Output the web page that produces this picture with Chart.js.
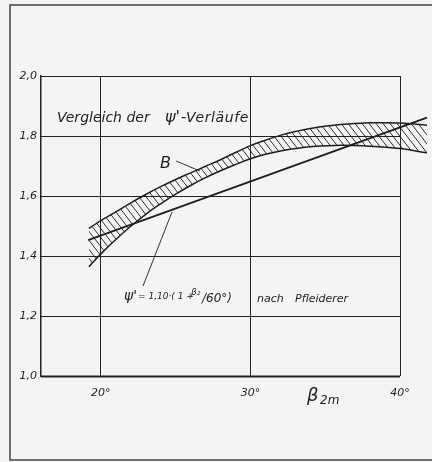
<!DOCTYPE html>
<html>
<head>
<meta charset="utf-8">
<script src="https://cdn.jsdelivr.net/npm/chart.js@4/dist/chart.umd.min.js"></script>
<style>
  html, body { margin: 0; padding: 0; background: #f4f4f4; }
  #wrap { position: relative; width: 432px; height: 462px; }
</style>
</head>
<body>
<div id="wrap"><canvas id="chart" width="432" height="462"></canvas></div>
<script>
// values (beta_2m in degrees, psi')
const bandBeta  = [19.2, 20, 21, 22, 23, 24, 25, 26, 27, 28, 29, 30, 31, 32, 33, 34, 36, 38, 40, 41.8];
const bandUpper = [1.492, 1.518, 1.547, 1.577, 1.605, 1.631, 1.655, 1.677, 1.699, 1.721, 1.745, 1.768, 1.786, 1.802, 1.815, 1.825, 1.838, 1.844, 1.843, 1.836];
const bandLower = [1.364, 1.407, 1.455, 1.499, 1.539, 1.574, 1.606, 1.635, 1.661, 1.684, 1.705, 1.724, 1.739, 1.75, 1.758, 1.764, 1.769, 1.766, 1.758, 1.744];
const pfleidererBeta = [19.15, 41.8];
const pfleidererPsi  = [1.453, 1.861];

const xTicks = [20, 30, 40];
const xTickLabels = ['20°', '30°', '40°'];
const yTicks = [1.0, 1.2, 1.4, 1.6, 1.8, 2.0];
const yTickLabels = ['1,0', '1,2', '1,4', '1,6', '1,8', '2,0'];

const ink = '#1e1e1e';
const font = 'DejaVu Sans';

function hatch() {
    const w = 7, h = 9;
    const c = document.createElement('canvas');
    c.width = w; c.height = h;
    const g = c.getContext('2d');
    g.strokeStyle = 'rgba(25,25,25,0.9)';
    g.lineWidth = 1;
    for (let k = -1; k <= 1; k++) {
        g.beginPath();
        g.moveTo(k * w, 0);
        g.lineTo(k * w + w, h);
        g.stroke();
    }
    return document.getElementById('chart').getContext('2d').createPattern(c, 'repeat');
}

const toPts = (xs, ys) => xs.map((x, i) => ({ x: x, y: ys[i] }));

// frame, horizontal grid, and the lettering
const drawing = {
    id: 'drawing',
    beforeDatasetsDraw(chart) {
        const { ctx, scales: { x, y } } = chart;
        const x0 = x.getPixelForValue(16), x1 = x.getPixelForValue(40);
        ctx.save();
        ctx.strokeStyle = '#222';
        yTicks.forEach(v => {
            const py = Math.round(y.getPixelForValue(v)) + 0.5;
            ctx.lineWidth = v === 1.0 ? 2 : 1;
            ctx.beginPath();
            ctx.moveTo(x0, py);
            ctx.lineTo(x1, py);
            ctx.stroke();
        });
        ctx.restore();
    },
    afterDraw(chart) {
        const { ctx } = chart;
        ctx.save();
        ctx.fillStyle = ink;
        ctx.textBaseline = 'alphabetic';

        // outer frame
        ctx.strokeStyle = '#444';
        ctx.lineWidth = 1.5;
        ctx.beginPath();
        ctx.moveTo(432, 5); ctx.lineTo(10, 5); ctx.lineTo(10, 460); ctx.lineTo(432, 460);
        ctx.stroke();
        ctx.strokeStyle = ink;

        // title
        ctx.font = 'italic 14px "' + font + '"';
        ctx.fillText('Vergleich der', 57, 122);
        ctx.font = 'italic 16px "' + font + '"';
        ctx.fillText('ψ\'', 165, 122);
        ctx.letterSpacing = '0.6px';
        ctx.font = 'italic 14px "' + font + '"';
        ctx.fillText('-Verläufe', 181, 122);
        ctx.letterSpacing = '0px';

        // label B with leader
        ctx.font = 'italic 16px "' + font + '"';
        ctx.fillText('B', 160, 168);
        ctx.lineWidth = 0.9;
        ctx.beginPath();
        ctx.moveTo(176, 161); ctx.lineTo(200, 171);
        ctx.stroke();

        // formula leader
        ctx.beginPath();
        ctx.moveTo(143, 286); ctx.lineTo(172, 212);
        ctx.stroke();

        // formula
        ctx.font = 'italic 14px "' + font + '"';
        ctx.fillText('ψ\'', 124, 300);
        ctx.font = 'italic 9px "' + font + '"';
        ctx.fillText('= 1,10·( 1 +', 138, 299);
        ctx.fillText('β₂', 191, 295);
        ctx.font = 'italic 12px "' + font + '"';
        ctx.fillText('/60°)', 202, 302);

        ctx.font = 'italic 11px "' + font + '"';
        ctx.fillText('nach', 257, 302);
        ctx.fillText('Pfleiderer', 295, 302);

        // axis title beta_2m
        ctx.font = 'italic 18px "' + font + '"';
        ctx.fillText('β', 307, 401);
        ctx.font = 'italic 12px "' + font + '"';
        ctx.fillText('2m', 320, 404);
        ctx.restore();
    }
};

new Chart(document.getElementById('chart'), {
    type: 'line',
    data: {
        datasets: [
            {
                label: 'B oben',
                data: toPts(bandBeta, bandUpper),
                borderColor: ink,
                borderWidth: 1.5,
                pointRadius: 0,
                tension: 0.4,
                fill: '+1',
                backgroundColor: hatch()
            },
            {
                label: 'B unten',
                data: toPts(bandBeta, bandLower),
                borderColor: ink,
                borderWidth: 1.5,
                pointRadius: 0,
                tension: 0.4,
                fill: false
            },
            {
                label: 'nach Pfleiderer',
                data: toPts(pfleidererBeta, pfleidererPsi),
                borderColor: ink,
                borderWidth: 1.8,
                pointRadius: 0,
                fill: false
            }
        ]
    },
    options: {
        responsive: false,
        animation: false,
        layout: { padding: { top: 76, left: 0, right: 2, bottom: 0 } },
        plugins: { legend: { display: false }, tooltip: { enabled: false } },
        scales: {
            x: {
                type: 'linear',
                min: 16,
                max: 42,
                afterBuildTicks: s => { s.ticks = xTicks.map(v => ({ value: v })); },
                afterFit: s => { s.height = 86; },
                ticks: {
                    callback: (v) => xTickLabels[xTicks.indexOf(v)],
                    font: { family: font, size: 11, style: 'italic' },
                    color: ink,
                    padding: 11
                },
                grid: { color: '#222', lineWidth: 1, drawTicks: false },
                border: { display: false }
            },
            y: {
                min: 1.0,
                max: 2.0,
                afterBuildTicks: s => { s.ticks = yTicks.map(v => ({ value: v })); },
                afterFit: s => { s.width = 41; },
                ticks: {
                    callback: (v) => yTickLabels[yTicks.findIndex(t => Math.abs(t - v) < 1e-6)],
                    font: { family: font, size: 11, style: 'italic' },
                    color: ink,
                    padding: 4
                },
                grid: { display: false, drawTicks: false },
                border: { display: true, color: '#222', width: 1.5 }
            }
        }
    },
    plugins: [drawing]
});
</script>
</body>
</html>
